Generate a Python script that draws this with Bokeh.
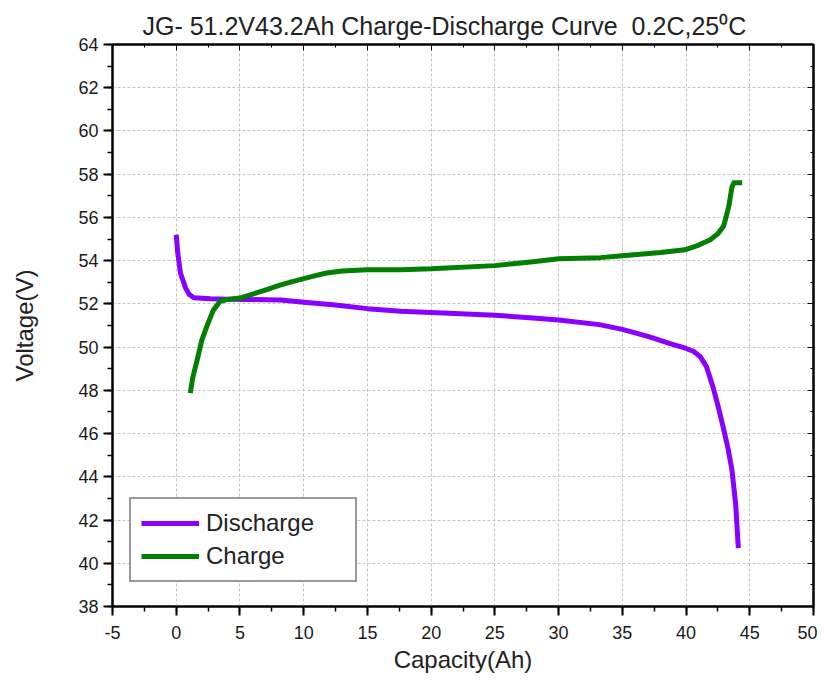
from bokeh.plotting import figure
from bokeh.models import (Range1d, SingleIntervalTicker, LinearAxis, Legend, LegendItem,
                          CustomJSTickFormatter)
from bokeh.embed import file_html
from bokeh.resources import INLINE

# Discharge curve (capacity Ah, voltage V)
discharge_cap = [0.0, 0.12, 0.33, 0.73, 1.0, 1.38, 2.7, 4.0, 5.8, 8.2, 10.0, 12.3, 15.0,
                 17.6, 20.0, 25.0, 28.0, 30.0, 33.2, 35.0, 37.0, 39.0, 39.9, 40.6, 41.1,
                 41.6, 42.1, 42.5, 42.9, 43.3, 43.6, 43.9, 44.1]
discharge_v = [55.2, 54.36, 53.43, 52.74, 52.45, 52.28, 52.24, 52.22, 52.2, 52.18, 52.08,
               51.96, 51.78, 51.66, 51.6, 51.47, 51.35, 51.25, 51.04, 50.82, 50.5, 50.12,
               49.96, 49.8, 49.57, 49.1, 48.18, 47.3, 46.33, 45.3, 44.32, 42.7, 40.7]

# Charge curve (capacity Ah, voltage V)
charge_cap = [1.1, 1.3, 1.65, 2.0, 2.4, 2.9, 3.45, 4.0, 5.0, 6.0, 7.1, 8.2, 9.7, 11.0,
              11.8, 13.0, 15.0, 17.6, 20.0, 25.0, 28.0, 30.0, 33.3, 35.0, 38.0, 39.9,
              41.0, 41.9, 42.5, 42.95, 43.35, 43.6, 43.75, 44.4]
charge_v = [47.87, 48.6, 49.42, 50.3, 50.96, 51.7, 52.12, 52.2, 52.27, 52.45, 52.66, 52.88,
            53.12, 53.32, 53.43, 53.52, 53.58, 53.58, 53.62, 53.77, 53.95, 54.09, 54.14,
            54.23, 54.38, 54.5, 54.72, 54.97, 55.25, 55.6, 56.5, 57.4, 57.6, 57.6]

x_ticks_interval = 5
y_ticks_interval = 2
x_tick_labels = {-5: "-5"}

FONT = "Liberation Sans"

p = figure(frame_width=701, frame_height=562,
           x_range=Range1d(-5, 50), y_range=Range1d(38, 64),
           output_backend="svg", toolbar_location=None,
           min_border_left=112, min_border_top=44, min_border_right=4, min_border_bottom=60,
           background_fill_color="white", border_fill_color="white")

p.title.text = "JG- 51.2V43.2Ah Charge-Discharge Curve \u00a00.2C,25\u2070C"
p.title.text_font = FONT
p.title.text_font_size = "25px"
p.title.text_font_style = "normal"
p.title.text_color = "#222222"
p.title.align = "left"
p.title.offset = 30

p.outline_line_color = "black"
p.outline_line_width = 2

# main axes
for ax in (p.xaxis[0], p.yaxis[0]):
    ax.axis_line_width = 2
    ax.axis_line_color = "black"
    ax.major_tick_line_width = 2
    ax.minor_tick_line_width = 1.5
    ax.major_tick_in = 0
    ax.major_tick_out = 9
    ax.minor_tick_in = 0
    ax.minor_tick_out = 5
    ax.major_label_text_font = FONT
    ax.major_label_text_font_size = "18px"
    ax.major_label_text_color = "#1a1a1a"
    ax.axis_label_text_font = FONT
    ax.axis_label_text_font_size = "24px"
    ax.axis_label_text_font_style = "normal"
    ax.axis_label_text_color = "#222222"

p.xaxis[0].ticker = SingleIntervalTicker(interval=x_ticks_interval, num_minor_ticks=2)
p.yaxis[0].ticker = SingleIntervalTicker(interval=y_ticks_interval, num_minor_ticks=2)
p.xaxis[0].major_label_overrides = x_tick_labels
p.xaxis[0].axis_label = "Capacity(Ah)"
p.yaxis[0].axis_label = "Voltage(V)"
p.xaxis[0].major_label_standoff = 10
p.xaxis[0].axis_label_standoff = 4
p.yaxis[0].major_label_standoff = 5
p.yaxis[0].axis_label_standoff = 37

# mirror axes (ticks inside, no labels)
empty = CustomJSTickFormatter(code="return ''")
top = LinearAxis(ticker=SingleIntervalTicker(interval=x_ticks_interval, num_minor_ticks=2),
                 formatter=empty, major_tick_in=6, major_tick_out=0, minor_tick_in=3,
                 minor_tick_out=0, axis_line_width=2, major_label_text_font_size="1px",
                 major_label_standoff=0)
right = LinearAxis(ticker=SingleIntervalTicker(interval=y_ticks_interval, num_minor_ticks=2),
                   formatter=empty, major_tick_in=6, major_tick_out=0, minor_tick_in=3,
                   minor_tick_out=0, axis_line_width=2, major_label_text_font_size="1px",
                   major_label_standoff=0)
p.add_layout(top, "above")
p.add_layout(right, "right")

# grid
for g in (p.xgrid[0], p.ygrid[0]):
    g.grid_line_color = "#c4c4c4"
    g.grid_line_dash = "3 2"
    g.grid_line_width = 1
p.xgrid[0].ticker = p.xaxis[0].ticker
p.ygrid[0].ticker = p.yaxis[0].ticker

r_dis = p.line(discharge_cap, discharge_v, line_color="#8a00ff", line_width=5, line_join="round")
r_chg = p.line(charge_cap, charge_v, line_color="#007f00", line_width=5, line_join="round")

legend = Legend(items=[LegendItem(label="Discharge", renderers=[r_dis]),
                       LegendItem(label="Charge", renderers=[r_chg])],
                location=(17, 24), padding=10, spacing=5, label_height=28, glyph_height=28,
                glyph_width=58, label_standoff=7, label_width=139,
                label_text_font=FONT, label_text_font_size="24px", label_text_color="#222222",
                border_line_color="#333333", border_line_width=2,
                background_fill_color="white", background_fill_alpha=1)
p.add_layout(legend, "center")

open("out.html", "w").write(file_html(p, INLINE))
